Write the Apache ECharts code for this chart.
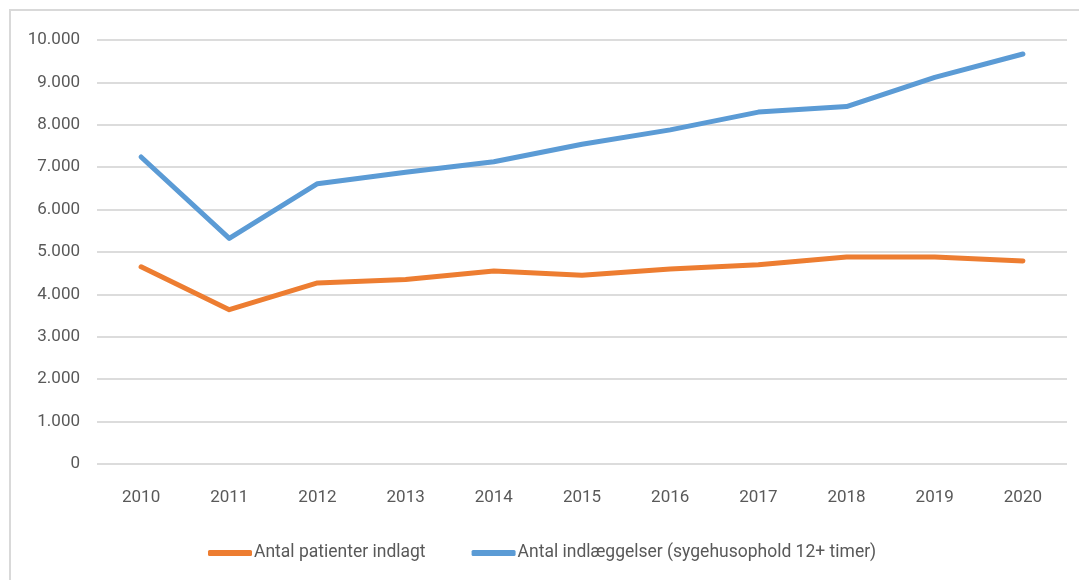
<!DOCTYPE html>
<html>
<head>
<meta charset="utf-8">
<script src="https://cdn.jsdelivr.net/npm/echarts@6/dist/echarts.min.js"></script>
<style>
  html, body { margin: 0; padding: 0; background: #fff; }
  #wrap { position: relative; width: 1079px; height: 580px; overflow: hidden; }
  #frame { position: absolute; left: 9px; top: 9px; width: 1200px; height: 700px; border: 2px solid #d9d9d9; }
  #chart { position: absolute; left: 0; top: 0; width: 1079px; height: 580px; }
</style>
</head>
<body>
<div id="wrap">
  <div id="frame"></div>
  <div id="chart"></div>
</div>
<script>
var years = ['2010', '2011', '2012', '2013', '2014', '2015', '2016', '2017', '2018', '2019', '2020'];
var patienter = [4650, 3640, 4270, 4350, 4550, 4450, 4600, 4700, 4880, 4880, 4790];
var indlaeggelser = [7240, 5320, 6610, 6880, 7130, 7540, 7880, 8300, 8430, 9120, 9670];

var font = 'Roboto, sans-serif';

function fmt(v) {
    return String(v).replace(/\B(?=(\d{3})+(?!\d))/g, '.');
}

var chart = echarts.init(document.getElementById('chart'));
var option = {
    animation: false,
    grid: {
        left: 97,
        right: 12,
        top: 40,
        bottom: 116
    },
    legend: {
        left: 203,
        top: 539,
        itemGap: 46,
        itemWidth: 44,
        itemHeight: 6,
        icon: 'roundRect',
        textStyle: { fontFamily: font, fontSize: 17.5, color: '#595959', padding: [0, 0, 0, -3] },
        data: ['Antal patienter indlagt', 'Antal indlæggelser (sygehusophold 12+ timer)']
    },
    xAxis: {
        type: 'category',
        data: years,
        boundaryGap: true,
        axisLine: { show: false },
        axisTick: { show: false },
        axisLabel: { fontFamily: font, fontSize: 17, color: '#595959', margin: 25 }
    },
    yAxis: {
        type: 'value',
        min: 0,
        max: 10000,
        interval: 1000,
        axisLine: { show: false },
        axisTick: { show: false },
        splitLine: { lineStyle: { color: '#dcdcdc', width: 2 } },
        axisLabel: {
            fontFamily: font, fontSize: 17, color: '#595959', margin: 17,
            formatter: function (v) { return fmt(v); }
        }
    },
    series: [
        {
            name: 'Antal patienter indlagt',
            type: 'line',
            data: patienter,
            symbol: 'none',
            color: '#ed7d31',
            lineStyle: { width: 5, cap: 'round', join: 'round' }
        }, {
            name: 'Antal indlæggelser (sygehusophold 12+ timer)',
            type: 'line',
            data: indlaeggelser,
            symbol: 'none',
            color: '#5b9bd5',
            lineStyle: { width: 5, cap: 'round', join: 'round' }
        }
    ]
};
chart.setOption(option);
</script>
</body>
</html>
